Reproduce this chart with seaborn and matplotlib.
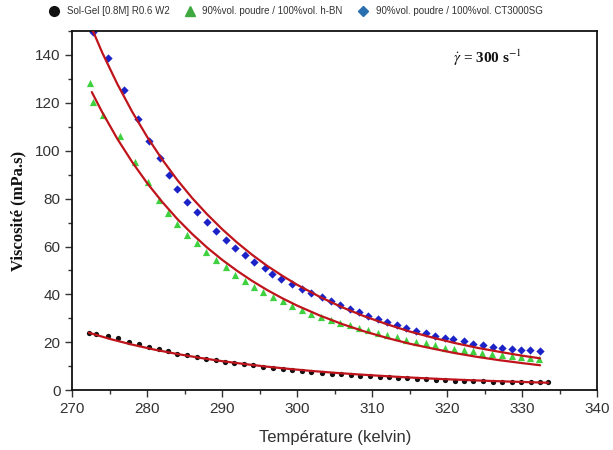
import matplotlib
matplotlib.use("Agg")
import matplotlib.pyplot as plt
from matplotlib.lines import Line2D
from matplotlib.ticker import MultipleLocator
import seaborn as sns
import pandas as pd

# Sol-Gel [0.8M] R0.6 W2 (points)
t_sg = [272.2, 273.2, 274.8, 276.1, 277.5, 278.9, 280.2, 281.5, 282.7, 284.0,
        285.3, 286.6, 287.8, 289.1, 290.4, 291.6, 292.9, 294.1, 295.5, 296.8,
        298.1, 299.3, 300.6, 301.9, 303.3, 304.6, 305.9, 307.2, 308.4, 309.7,
        311.0, 312.3, 313.5, 314.7, 316.0, 317.2, 318.5, 319.7, 321.1, 322.3,
        323.5, 324.8, 326.1, 327.3, 328.6, 329.9, 331.2, 332.4, 333.5]
v_sg = [23.7, 23.3, 22.6, 21.6, 20.3, 19.2, 18.1, 17.0, 16.2, 15.3,
        14.6, 13.9, 13.1, 12.4, 11.8, 11.3, 10.9, 10.3, 9.7, 9.3,
        8.9, 8.5, 8.1, 7.7, 7.2, 6.9, 6.7, 6.4, 6.1, 5.8,
        5.6, 5.3, 5.2, 4.9, 4.6, 4.5, 4.3, 4.2, 4.0, 3.9,
        3.9, 3.8, 3.6, 3.5, 3.3, 3.3, 3.2, 3.2, 3.3]

# 90%vol. poudre / 100%vol. h-BN (points)
t_bn = [272.3, 272.8, 274.1, 276.3, 278.3, 280.1, 281.5, 282.7, 284.0, 285.3,
        286.6, 287.8, 289.2, 290.5, 291.7, 293.0, 294.2, 295.5, 296.8, 298.1,
        299.3, 300.6, 301.8, 303.2, 304.5, 305.7, 307.0, 308.2, 309.5, 310.8,
        312.0, 313.3, 314.5, 315.9, 317.2, 318.4, 319.7, 320.9, 322.2, 323.4,
        324.7, 326.0, 327.3, 328.6, 329.9, 331.1, 332.3]
v_bn = [128.2, 120.5, 114.9, 106.1, 95.4, 87.0, 79.4, 73.8, 69.4, 64.8,
        61.3, 57.8, 54.3, 51.3, 48.1, 45.7, 43.2, 41.1, 39.0, 37.2,
        35.1, 33.4, 32.0, 30.6, 29.3, 28.1, 27.2, 26.1, 25.0, 24.0,
        23.0, 22.0, 21.0, 20.2, 19.5, 18.8, 17.8, 17.3, 16.7, 16.2,
        15.6, 15.0, 14.5, 14.2, 13.9, 13.6, 13.2]

# 90%vol. poudre / 100%vol. CT3000SG (points)
t_ct = [272.7, 274.7, 276.9, 278.7, 280.2, 281.7, 282.9, 284.0, 285.3, 286.6,
        288.0, 289.2, 290.5, 291.7, 293.0, 294.2, 295.7, 296.7, 297.9, 299.3,
        300.7, 301.9, 303.3, 304.5, 305.7, 307.0, 308.3, 309.5, 310.8, 312.0,
        313.3, 314.5, 315.9, 317.2, 318.4, 319.7, 320.8, 322.2, 323.5, 324.8,
        326.1, 327.3, 328.6, 329.9, 331.1, 332.4]
v_ct = [149.6, 138.7, 125.4, 113.2, 104.0, 96.9, 89.9, 84.0, 78.6, 74.4,
        70.2, 66.4, 62.7, 59.3, 56.4, 53.5, 51.0, 48.5, 46.3, 44.2,
        42.3, 40.7, 38.9, 37.2, 35.7, 34.0, 32.5, 31.1, 29.7, 28.4,
        27.2, 26.0, 24.7, 23.7, 22.8, 21.7, 21.2, 20.4, 19.2, 18.7,
        18.1, 17.7, 17.3, 16.7, 16.7, 16.4]

# fitted curves (red)
tf_sg = [272.2, 275, 278, 281, 284, 287, 290, 293, 296, 299, 302, 305, 308,
         311, 314, 317, 320, 323, 326, 329, 331, 333.5]
vf_sg = [24.0, 21.4, 19.0, 16.9, 15.1, 13.5, 12.1, 10.9, 9.8, 8.85, 8.0, 7.25,
         6.6, 6.0, 5.45, 4.97, 4.55, 4.16, 3.82, 3.51, 3.32, 3.1]
tf_bn = [272.6, 274, 276, 278, 280, 282, 284, 286, 288, 290, 292, 294, 296,
         298, 300, 303, 306, 309, 312, 315, 318, 321, 324, 327, 330, 332.4]
vf_bn = [124.5, 116.0, 105.0, 95.2, 86.4, 78.6, 71.5, 65.2, 59.5, 54.4, 49.8,
         45.6, 41.8, 38.4, 35.3, 31.2, 27.6, 24.5, 21.8, 19.4, 17.4, 15.5,
         13.9, 12.5, 11.3, 10.4]
tf_ct = [271.8, 274, 276, 278, 280, 282, 284, 286, 288, 290, 292, 294, 296,
         298, 300, 303, 306, 309, 312, 315, 318, 321, 324, 327, 330, 332.4]
vf_ct = [157.0, 140.9, 127.9, 116.2, 105.7, 96.3, 87.8, 80.2, 73.4, 67.2, 61.6,
         56.5, 51.9, 47.8, 44.0, 39.0, 34.6, 30.8, 27.5, 24.5, 22.0, 19.7,
         17.7, 16.0, 14.4, 13.3]

labels = ["Sol-Gel [0.8M] R0.6 W2",
          "90%vol. poudre / 100%vol. h-BN",
          "90%vol. poudre / 100%vol. CT3000SG"]

sns.set_theme(style="white")
plt.rcParams["font.family"] = ["Liberation Sans", "DejaVu Sans"]
plt.rcParams["mathtext.fontset"] = "stix"

fig = plt.figure(figsize=(6.13, 4.5), dpi=100)
ax = fig.add_axes([0.118, 0.133, 0.856, 0.798])

red = "#bf141b"
pts = [(t_sg, v_sg, "o", "#111111", 3.8),
       (t_bn, v_bn, "^", "#3fd13f", 5.2),
       (t_ct, v_ct, "D", "#1a22c8", 4.2)]
for t, v, m, c, s in pts:
    sns.scatterplot(x=t, y=v, marker=m, color=c, s=s ** 2, linewidth=0,
                    ax=ax, zorder=2, legend=False)

for t, v in [(tf_sg, vf_sg), (tf_bn, vf_bn), (tf_ct, vf_ct)]:
    sns.lineplot(x=t, y=v, color=red, lw=1.6, ax=ax, zorder=3,
                 estimator=None, sort=False)

ax.set_xlim(270, 340)
ax.set_ylim(0, 150)
ax.xaxis.set_major_locator(MultipleLocator(10))
ax.xaxis.set_minor_locator(MultipleLocator(5))
ax.yaxis.set_major_locator(MultipleLocator(20))
ax.yaxis.set_minor_locator(MultipleLocator(10))
ax.tick_params(which="both", direction="out", colors="#333333",
               bottom=True, left=True, labelsize=11)
ax.tick_params(which="major", length=5, width=1)
ax.tick_params(which="minor", length=3, width=1)
for sp in ax.spines.values():
    sp.set_color("#111111")
    sp.set_linewidth(1.3)

ax.set_xlabel("Température (kelvin)", fontsize=12, color="#333333", labelpad=10)
ax.set_ylabel("Viscosité (mPa.s)", fontsize=12, fontweight="bold",
              family="Liberation Serif", color="#111111", labelpad=6)

ax.text(0.725, 0.955, r"$\dot{\gamma}$ = 300 s$^{-1}$", transform=ax.transAxes,
        fontsize=11, fontweight="bold", family="Liberation Serif",
        ha="left", va="top", color="#111111")

handles = [Line2D([], [], ls="none", marker="o", color="#111111", markersize=7),
           Line2D([], [], ls="none", marker="^", color="#3fa83f", markersize=7),
           Line2D([], [], ls="none", marker="D", color="#2a6fb0", markersize=5.5)]
fig.legend(handles, labels, loc="upper left", bbox_to_anchor=(0.058, 1.005),
           ncol=3, frameon=False, fontsize=7, handletextpad=0.3,
           columnspacing=1.1, labelcolor="#333333")

fig.savefig("out.png", dpi=100)
